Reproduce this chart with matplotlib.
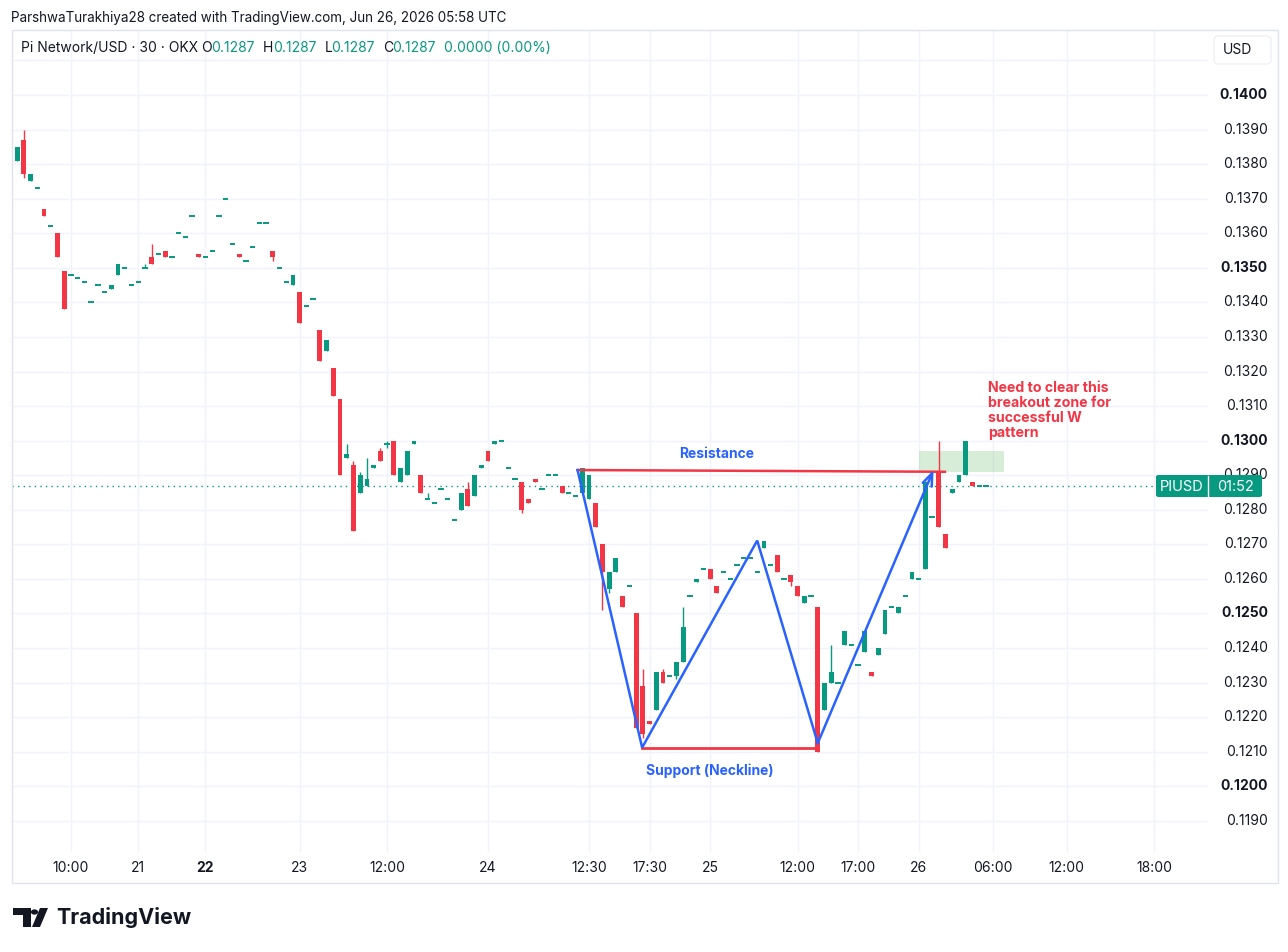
import numpy as np
import matplotlib
matplotlib.use("Agg")
import matplotlib.pyplot as plt
from matplotlib.patches import Rectangle, Polygon, Circle, FancyBboxPatch
from matplotlib.transforms import blended_transform_factory

plt.rcParams['font.family'] = ['Inter', 'DejaVu Sans']

# --- dados (candles de 30 min, Pi Network/USD) ---
opens = [0.1360, 0.1381, 0.1387, 0.1375, 0.1373, 0.1367, 0.1362, 0.1360, 0.1349, 0.1348,
         0.1347, 0.1346, 0.1340, 0.1345, 0.1343, 0.1344, 0.1348, 0.1350, 0.1345, 0.1346,
         0.1350, 0.1353, 0.1354, 0.1355, 0.1353, 0.1360, 0.1359, 0.1365, 0.1354, 0.1353,
         0.1355, 0.1365, 0.1370, 0.1357, 0.1354, 0.1352, 0.1356, 0.1363, 0.1363, 0.1355,
         0.1350, 0.1346, 0.1345, 0.1343, 0.1339, 0.1341, 0.1332, 0.1326, 0.1321, 0.1312,
         0.1295, 0.1293, 0.1285, 0.1287, 0.1292, 0.1297, 0.1299, 0.1300, 0.1288, 0.1290,
         0.1299, 0.1290, 0.1283, 0.1282, 0.1286, 0.1283, 0.1277, 0.1280, 0.1286, 0.1284,
         0.1292, 0.1297, 0.1299, 0.1300, 0.1292, 0.1289, 0.1288, 0.1283, 0.1289, 0.1286,
         0.1290, 0.1290, 0.1287, 0.1285, 0.1284, 0.1285, 0.1283, 0.1282, 0.1270, 0.1257,
         0.1262, 0.1255, 0.1258, 0.1250, 0.1229, 0.1219, 0.1222, 0.1233, 0.1232, 0.1232,
         0.1236, 0.1255, 0.1259, 0.1263, 0.1263, 0.1258, 0.1262, 0.1260, 0.1264, 0.1266,
         0.1266, 0.1262, 0.1269, 0.1264, 0.1267, 0.1260, 0.1261, 0.1258, 0.1253, 0.1255,
         0.1252, 0.1222, 0.1230, 0.1230, 0.1241, 0.1241, 0.1235, 0.1239, 0.1233, 0.1238,
         0.1244, 0.1252, 0.1250, 0.1255, 0.1260, 0.1260, 0.1263, 0.1278, 0.1291, 0.1273,
         0.1285, 0.1288, 0.1290, 0.1288, 0.1287, 0.1287]
closes = [0.1374, 0.1385, 0.1377, 0.1377, 0.1373, 0.1365, 0.1362, 0.1353, 0.1338, 0.1348,
          0.1347, 0.1346, 0.1340, 0.1345, 0.1343, 0.1345, 0.1351, 0.1350, 0.1345, 0.1346,
          0.1350, 0.1351, 0.1354, 0.1353, 0.1353, 0.1360, 0.1359, 0.1365, 0.1353, 0.1353,
          0.1355, 0.1365, 0.1370, 0.1357, 0.1353, 0.1352, 0.1356, 0.1363, 0.1363, 0.1353,
          0.1350, 0.1346, 0.1348, 0.1334, 0.1339, 0.1341, 0.1323, 0.1329, 0.1313, 0.1290,
          0.1296, 0.1274, 0.1290, 0.1289, 0.1293, 0.1294, 0.1299, 0.1290, 0.1292, 0.1297,
          0.1300, 0.1285, 0.1283, 0.1282, 0.1286, 0.1283, 0.1277, 0.1285, 0.1281, 0.1290,
          0.1293, 0.1294, 0.1300, 0.1300, 0.1292, 0.1289, 0.1280, 0.1282, 0.1288, 0.1286,
          0.1290, 0.1290, 0.1285, 0.1285, 0.1284, 0.1292, 0.1290, 0.1275, 0.1262, 0.1262,
          0.1266, 0.1252, 0.1258, 0.1217, 0.1215, 0.1218, 0.1233, 0.1230, 0.1232, 0.1236,
          0.1246, 0.1255, 0.1260, 0.1263, 0.1260, 0.1256, 0.1262, 0.1260, 0.1264, 0.1266,
          0.1266, 0.1262, 0.1271, 0.1264, 0.1262, 0.1260, 0.1259, 0.1255, 0.1255, 0.1255,
          0.1210, 0.1230, 0.1233, 0.1230, 0.1245, 0.1241, 0.1235, 0.1245, 0.1232, 0.1240,
          0.1251, 0.1252, 0.1252, 0.1255, 0.1262, 0.1260, 0.1288, 0.1278, 0.1275, 0.1269,
          0.1286, 0.1290, 0.1300, 0.1287, 0.1287, 0.1287]
highs = [0.1374, 0.1385, 0.1390, 0.1377, 0.1373, 0.1367, 0.1362, 0.1360, 0.1349, 0.1348,
         0.1347, 0.1346, 0.1340, 0.1345, 0.1343, 0.1345, 0.1351, 0.1350, 0.1345, 0.1346,
         0.1351, 0.1357, 0.1354, 0.1355, 0.1353, 0.1360, 0.1359, 0.1365, 0.1354, 0.1353,
         0.1355, 0.1365, 0.1370, 0.1357, 0.1354, 0.1352, 0.1356, 0.1363, 0.1363, 0.1355,
         0.1350, 0.1346, 0.1348, 0.1343, 0.1339, 0.1341, 0.1332, 0.1329, 0.1321, 0.1312,
         0.1299, 0.1294, 0.1291, 0.1295, 0.1293, 0.1298, 0.1300, 0.1300, 0.1292, 0.1297,
         0.1300, 0.1290, 0.1285, 0.1282, 0.1286, 0.1283, 0.1277, 0.1285, 0.1288, 0.1290,
         0.1293, 0.1297, 0.1300, 0.1300, 0.1292, 0.1289, 0.1288, 0.1283, 0.1289, 0.1286,
         0.1290, 0.1290, 0.1287, 0.1285, 0.1284, 0.1292, 0.1290, 0.1282, 0.1270, 0.1262,
         0.1266, 0.1255, 0.1258, 0.1250, 0.1234, 0.1219, 0.1233, 0.1234, 0.1232, 0.1236,
         0.1252, 0.1255, 0.1260, 0.1263, 0.1263, 0.1258, 0.1262, 0.1260, 0.1264, 0.1266,
         0.1266, 0.1262, 0.1271, 0.1264, 0.1267, 0.1260, 0.1261, 0.1258, 0.1255, 0.1255,
         0.1252, 0.1230, 0.1241, 0.1230, 0.1245, 0.1241, 0.1235, 0.1245, 0.1233, 0.1240,
         0.1251, 0.1252, 0.1252, 0.1255, 0.1262, 0.1260, 0.1288, 0.1278, 0.1300, 0.1273,
         0.1286, 0.1290, 0.1300, 0.1288, 0.1287, 0.1287]
lows = [0.1360, 0.1381, 0.1376, 0.1375, 0.1373, 0.1365, 0.1362, 0.1353, 0.1338, 0.1348,
        0.1347, 0.1346, 0.1340, 0.1345, 0.1343, 0.1344, 0.1348, 0.1350, 0.1345, 0.1346,
        0.1350, 0.1351, 0.1354, 0.1353, 0.1353, 0.1360, 0.1359, 0.1365, 0.1353, 0.1353,
        0.1355, 0.1365, 0.1370, 0.1357, 0.1353, 0.1352, 0.1356, 0.1363, 0.1363, 0.1352,
        0.1350, 0.1346, 0.1345, 0.1334, 0.1339, 0.1341, 0.1323, 0.1326, 0.1313, 0.1290,
        0.1295, 0.1274, 0.1285, 0.1287, 0.1292, 0.1294, 0.1298, 0.1290, 0.1288, 0.1290,
        0.1299, 0.1285, 0.1283, 0.1282, 0.1286, 0.1283, 0.1277, 0.1280, 0.1281, 0.1284,
        0.1292, 0.1294, 0.1299, 0.1300, 0.1292, 0.1289, 0.1279, 0.1282, 0.1288, 0.1286,
        0.1290, 0.1290, 0.1285, 0.1285, 0.1284, 0.1285, 0.1283, 0.1275, 0.1251, 0.1256,
        0.1262, 0.1252, 0.1258, 0.1217, 0.1214, 0.1218, 0.1222, 0.1230, 0.1232, 0.1231,
        0.1236, 0.1255, 0.1259, 0.1263, 0.1260, 0.1256, 0.1262, 0.1260, 0.1264, 0.1266,
        0.1266, 0.1262, 0.1269, 0.1264, 0.1262, 0.1260, 0.1258, 0.1255, 0.1253, 0.1255,
        0.1210, 0.1222, 0.1230, 0.1230, 0.1241, 0.1241, 0.1235, 0.1239, 0.1232, 0.1238,
        0.1244, 0.1252, 0.1250, 0.1255, 0.1260, 0.1260, 0.1263, 0.1278, 0.1275, 0.1269,
        0.1285, 0.1288, 0.1290, 0.1287, 0.1287, 0.1287]

# rótulos do eixo de tempo (posição em número de candles)
time_pos = [8, 18, 28, 42, 55, 70, 85, 94, 103, 116, 125, 134, 145, 156, 169]
time_labels = ["10:00", "21", "22", "23", "12:00", "24", "12:30", "17:30",
               "25", "12:00", "17:00", "26", "06:00", "12:00", "18:00"]
price_ticks = [0.1190, 0.1200, 0.1210, 0.1220, 0.1230, 0.1240, 0.1250, 0.1260, 0.1270,
               0.1280, 0.1290, 0.1300, 0.1310, 0.1320, 0.1330, 0.1340, 0.1350, 0.1360,
               0.1370, 0.1380, 0.1390, 0.1400]
bold_prices = [0.1200, 0.1250, 0.1300, 0.1350, 0.1400]
last_price = 0.1287

# desenhos do padrão W (posição do candle, preço)
w_x = [83.3, 92.9, 110.0, 119.0, 136.2]
w_y = [0.12915, 0.12112, 0.12711, 0.12125, 0.12915]
resist_x = [83.3, 137.9]
resist_y = [0.12915, 0.12910]
support_x = [92.9, 119.1]
support_y = [0.12110, 0.12110]
zone_x = [134.1, 146.7]
zone_y = [0.1291, 0.1297]

UP = '#089981'
DOWN = '#F23645'
BLUE = '#2962FF'
TXT = '#131722'
GRID = '#f0f3fa'

W, H = 1288, 952
fig = plt.figure(figsize=(W / 100, H / 100), dpi=100)


def px(x, y):
    return x / W, 1 - y / H


ax = fig.add_axes([11.7 / W, 1 - 852 / H, (1208 - 11.7) / W, (852 - 30) / H])
ax.set_xlim(-0.8, 177.0)
ax.set_ylim(0.11810, 0.14188)
for s in ax.spines.values():
    s.set_visible(False)
ax.set_xticks([])
ax.set_yticks([])

# grade
for p in np.arange(0.1190, 0.1415, 0.001):
    ax.axhline(p, color=GRID, lw=1, zorder=0)
for t in time_pos:
    ax.axvline(t, color=GRID, lw=1, zorder=0)

# candles
x = np.arange(len(opens)) - 1
o = np.array(opens)
c = np.array(closes)
hi = np.array(highs)
lo = np.array(lows)
cores = np.where(c >= o, UP, DOWN)
ax.vlines(x, lo, hi, colors=cores, lw=1, zorder=3)
corpo = np.abs(c - o) > 1e-7
ax.bar(x[corpo], (c - o)[corpo], bottom=o[corpo], width=0.72, color=cores[corpo],
       linewidth=0, zorder=4)
ax.hlines(o[~corpo], x[~corpo] - 0.4, x[~corpo] + 0.4, colors=cores[~corpo], lw=1.4, zorder=4)

# linha do último preço
ax.axhline(last_price, color=UP, lw=1, ls=(0, (1, 3)), zorder=2)

# zona de rompimento
ax.add_patch(Rectangle((zone_x[0], zone_y[0]), zone_x[1] - zone_x[0], zone_y[1] - zone_y[0],
                       facecolor=(0.30, 0.69, 0.31, 0.22), edgecolor='none', zorder=2))

# linhas de resistência / suporte e o W
ax.plot(resist_x, resist_y, color=DOWN, lw=1.8, zorder=5)
ax.plot(support_x, support_y, color=DOWN, lw=2.0, zorder=5)
ax.plot(w_x[:-1], w_y[:-1], color=BLUE, lw=1.8, zorder=6, solid_joinstyle='miter')
ax.annotate('', xy=(w_x[-1], w_y[-1]), xytext=(w_x[-2], w_y[-2]),
            arrowprops=dict(arrowstyle='->,head_length=0.9,head_width=0.35', color=BLUE, lw=1.8,
                            shrinkA=0, shrinkB=0), zorder=6)

ax.text(103.9, 0.12961, 'Resistance', color=BLUE, fontsize=10, fontweight='bold',
        ha='center', va='center', zorder=7)
ax.text(102.9, 0.12045, 'Support (Neckline)', color=BLUE, fontsize=10, fontweight='bold',
        ha='center', va='center', zorder=7)
ax.text(144.3, 0.13172, 'Need to clear this\nbreakout zone for\nsuccessful W\npattern',
        color=DOWN, fontsize=10.2, fontweight='bold', ha='left', va='top', linespacing=1.08,
        zorder=7)

# eixo de preços
ty = blended_transform_factory(ax.transAxes, ax.transData)
xr = (1268 - 11.7) / (1208 - 11.7)
for p in price_ticks:
    peso = 'bold' if any(abs(p - b) < 1e-9 for b in bold_prices) else 'normal'
    ax.text(xr, p, f'{p:.4f}', transform=ty, ha='right', va='center', fontsize=10,
            fontweight=peso, color=TXT, clip_on=False, zorder=1)

# eixo de tempo
tx = blended_transform_factory(ax.transData, ax.transAxes)
for t, lab in zip(time_pos, time_labels):
    ax.text(t, -16 / 822, lab, transform=tx, ha='center', va='center', fontsize=10,
            fontweight='bold' if lab == '22' else 'normal', color=TXT, clip_on=False)

# etiqueta do último preço
fig.patches.append(FancyBboxPatch(px(1156, 497), 106 / W, 22 / H,
                                  boxstyle='round,pad=0,rounding_size=0.002',
                                  transform=fig.transFigure, facecolor=UP, edgecolor='none',
                                  zorder=10))
fig.lines.append(plt.Line2D([1208 / W, 1208 / W], [1 - 476 / H, 1 - 496 / H],
                            transform=fig.transFigure, color='white', lw=1, zorder=11))
fig.text(*px(1182, 487), 'PIUSD', color='white', fontsize=10.5, ha='center', va='center', zorder=12)
fig.text(*px(1235, 487), '01:52', color='white', fontsize=10.5, ha='center', va='center', zorder=12)

# moldura externa
fig.patches.append(Rectangle(px(11.7, 883), (1278 - 11.7) / W, (883 - 30) / H,
                             transform=fig.transFigure, fill=False, edgecolor='#e0e3eb', lw=1))

# caixa USD
fig.patches.append(FancyBboxPatch(px(1214, 64), 57 / W, 28 / H,
                                  boxstyle='round,pad=0,rounding_size=0.004',
                                  transform=fig.transFigure, facecolor='white',
                                  edgecolor='#eef0f4', lw=1, zorder=10))
fig.text(*px(1237, 50), 'USD', color=TXT, fontsize=10, ha='center', va='center', zorder=11)

# cabeçalho
fig.text(*px(11, 18), 'ParshwaTurakhiya28 created with TradingView.com, Jun 26, 2026 05:58 UTC',
         color=TXT, fontsize=9.7, ha='left', va='center')
partes = [(21, 'Pi Network/USD · 30 · OKX', TXT), (201.5, 'O', TXT), (211.5, '0.1287', UP),
          (263, 'H', TXT), (272.8, '0.1287', UP), (324.5, 'L', TXT), (331.4, '0.1287', UP),
          (382.7, 'C', TXT), (392.3, '0.1287', UP), (443.9, '0.0000 (0.00%)', UP)]
for xp, s, cor in partes:
    fig.text(*px(xp, 48), s, color=cor, fontsize=10, ha='left', va='center', zorder=11)

# logo TradingView
logo = '#131722'
fig.patches.append(Polygon([px(13, 908), px(31, 908), px(31, 927), px(23, 927), px(23, 915),
                            px(13, 915)], closed=True, transform=fig.transFigure,
                           facecolor=logo, edgecolor='none'))
fig.patches.append(Circle(px(34.5, 912), 3.6 / W, transform=fig.transFigure,
                          facecolor=logo, edgecolor='none'))
fig.patches.append(Polygon([px(40, 908), px(48, 908), px(40, 927), px(32, 927)], closed=True,
                           transform=fig.transFigure, facecolor=logo, edgecolor='none'))
fig.text(*px(56, 918), 'TradingView', color=logo, fontsize=15.5, fontweight='bold',
         ha='left', va='center')

fig.savefig('out.png', dpi=100)
plt.close(fig)
